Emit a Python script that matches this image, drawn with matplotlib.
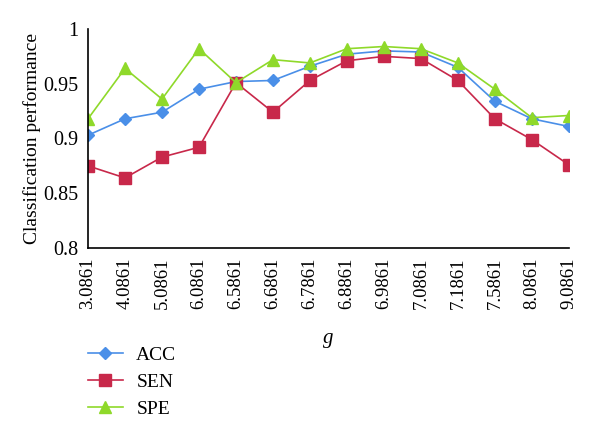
import matplotlib
matplotlib.use("Agg")
import matplotlib.pyplot as plt

plt.rcParams['font.family'] = ['Liberation Serif', 'DejaVu Serif']

g_labels = ['3.0861', '4.0861', '5.0861', '6.0861', '6.5861', '6.6861', '6.7861',
            '6.8861', '6.9861', '7.0861', '7.1861', '7.5861', '8.0861', '9.0861']
acc = [0.903, 0.918, 0.924, 0.945, 0.952, 0.953, 0.966,
       0.977, 0.980, 0.979, 0.965, 0.934, 0.918, 0.911]
sen = [0.875, 0.864, 0.883, 0.892, 0.951, 0.924, 0.953,
       0.971, 0.975, 0.973, 0.953, 0.918, 0.899, 0.876]
spe = [0.918, 0.964, 0.936, 0.982, 0.951, 0.972, 0.969,
       0.982, 0.984, 0.982, 0.969, 0.945, 0.919, 0.921]

fig = plt.figure(figsize=(6, 4.38), dpi=100)
ax = fig.add_axes([0.1467, 0.4338, 0.8013, 0.5])

x = list(range(len(g_labels)))
ax.plot(x, acc, color='#4a8fe8', marker='D', markersize=6, linewidth=1.2, label='ACC')
ax.plot(x, sen, color='#c8284a', marker='s', markersize=8.5, linewidth=1.2, label='SEN')
ax.plot(x, spe, color='#8fd92a', marker='^', markersize=9, linewidth=1.2, label='SPE')

ax.set_xlim(0, len(g_labels) - 1)
ax.set_ylim(0.8, 1.0)
ax.set_yticks([0.8, 0.85, 0.9, 0.95, 1.0])
ax.set_yticklabels(['0.8', '0.85', '0.9', '0.95', '1'])
ax.set_xticks(x)
ax.set_xticklabels(g_labels, rotation=90)
ax.tick_params(axis='both', length=0, pad=7)
ax.tick_params(axis='y', labelsize=14.5)
ax.tick_params(axis='x', labelsize=13.5)
ax.spines['top'].set_visible(False)
ax.spines['right'].set_visible(False)
ax.spines['left'].set_linewidth(1.2)
ax.spines['bottom'].set_linewidth(1.2)

ax.set_ylabel('Classification performance', fontsize=14)
ax.yaxis.set_label_coords(-0.098, 0.5)
ax.set_xlabel('g', fontsize=15, style='italic')
ax.xaxis.set_label_coords(0.5, -0.37)

fig.legend(loc='upper left', bbox_to_anchor=(0.117, 0.25), frameon=False,
           fontsize=14, handlelength=1.8, labelspacing=0.5, handletextpad=0.7)

fig.savefig('out.png', dpi=100)
